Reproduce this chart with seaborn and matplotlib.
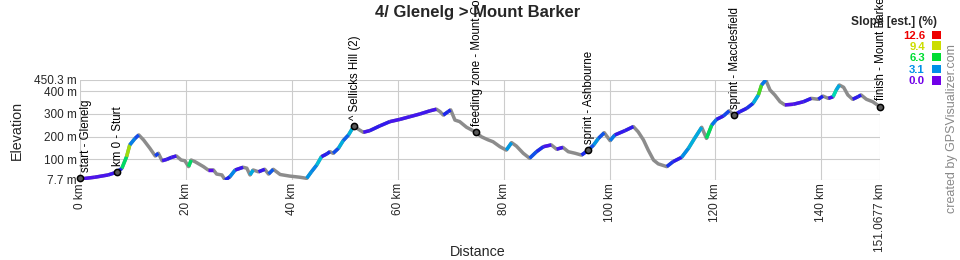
import numpy as np
import pandas as pd
import matplotlib
matplotlib.use("Agg")
import matplotlib.pyplot as plt
import seaborn as sns
from matplotlib.collections import LineCollection
from matplotlib.colors import LinearSegmentedColormap
from matplotlib.patches import Rectangle

# ---------------- data ----------------
distance_km = [0.0, 2.8, 5.3, 6.9, 7.9, 8.8, 9.4, 10.4, 11.1, 12.0, 13.2, 14.2, 14.8, 15.5, 16.4,
               17.3, 18.2, 19.1, 19.8, 20.5, 21.0, 21.7, 23.3, 24.2, 25.2, 25.8, 26.8, 27.4, 28.3,
               29.3, 30.8, 31.5, 32.1, 32.7, 33.7, 34.9, 35.6, 36.5, 37.8, 39.6, 41.5, 42.8, 43.7,
               44.7, 45.6, 46.6, 47.2, 47.8, 48.8, 49.7, 50.7, 51.7, 52.8, 53.5, 54.7, 56.6, 58.5,
               60.4, 62.3, 64.2, 66.1, 67.3, 68.0, 68.6, 69.5, 70.0, 70.8, 71.7, 73.0, 74.7, 75.8,
               77.0, 78.0, 79.3, 80.5, 81.5, 82.4, 83.7, 84.9, 86.2, 87.5, 89.0, 90.0, 91.2, 92.2,
               93.5, 94.7, 96.0, 97.0, 97.9, 99.0, 100.1, 101.0, 102.9, 104.5, 105.4, 106.4, 107.3,
               108.3, 109.2, 110.8, 112.0, 113.6, 114.9, 116.0, 117.4, 118.3, 119.3, 120.2, 121.5,
               122.6, 123.5, 124.6, 125.9, 127.1, 128.1, 128.7, 129.5, 130.3, 131.2, 132.2, 133.1,
               134.7, 136.6, 138.1, 139.4, 140.3, 141.3, 142.2, 142.8, 143.4, 144.2, 145.0, 145.9,
               146.9, 147.5, 148.5, 149.7, 151.0677]
elevation_m = [12, 20, 30, 42, 59, 111, 163, 192, 207, 185, 148, 114, 126, 93, 99,
               108, 114, 96, 93, 67, 96, 89, 67, 52, 52, 34, 30, 7.7, 22,
               52, 64, 60, 30, 52, 44, 55, 34, 55, 32, 25, 20, 15, 44,
               74, 111, 123, 133, 126, 148, 182, 207, 246, 229, 219, 226, 247, 266,
               276, 288, 300, 314, 321, 310, 295, 310, 318, 273, 266, 241, 220, 199,
               186, 177, 155, 140, 173, 158, 126, 104, 133, 155, 163, 144, 152, 133,
               126, 118, 140, 163, 192, 217, 182, 207, 226, 244, 221, 185, 140,
               96, 79, 67, 89, 108, 148, 190, 241, 192, 251, 276, 291,
               314, 295, 310, 325, 347, 384, 428, 450.3, 406, 384, 354, 340,
               343, 354, 369, 365, 379, 369, 376, 406, 428, 418, 384, 365,
               376, 384, 365, 354, 332]

waypoint_km = [0.0, 6.9, 51.7, 74.7, 96.0, 123.5, 151.0677]
waypoint_elev = [15, 42, 247, 219, 140, 295, 332]
waypoint_names = ["start - Glenelg", "km 0 - Sturt", "^ Sellicks Hill (2)",
                  "feeding zone - Mount Compass", "sprint - Ashbourne",
                  "sprint - Macclesfield", "finish - Mount Barker"]

x_ticks = [0, 20, 40, 60, 80, 100, 120, 140, 151.0677]
x_tick_labels = ["0 km", "20 km", "40 km", "60 km", "80 km", "100 km", "120 km", "140 km", "151.0677 km"]
y_ticks = [7.7, 100, 200, 300, 400, 450.3]
y_tick_labels = ["7.7 m", "100 m", "200 m", "300 m", "400 m", "450.3 m"]

legend_values = ["12.6", "9.4", "6.3", "3.1", "0.0"]
legend_colors = ["#EE0000", "#CCDD00", "#00DD33", "#0090E8", "#7000E8"]

title = "4/ Glenelg > Mount Barker"
legend_title = "Slope [est.] (%)"
credit = "created by GPSVisualizer.com"

# ---------------- style ----------------
sns.set_style("white")
plt.rcParams["font.family"] = ["Liberation Sans", "DejaVu Sans"]

W, H = 960, 260
fig = plt.figure(figsize=(W / 100, H / 100), dpi=100)
ax = fig.add_axes([80 / W, (H - 180) / H, 800 / W, 100 / H])

df = pd.DataFrame({"km": distance_km, "elev": elevation_m})

# grey base profile (descents remain grey)
sns.lineplot(data=df, x="km", y="elev", color="#8C8C8C", lw=2.5, ax=ax,
             solid_capstyle="round", zorder=3)

# coloured ascents by slope
x = np.asarray(distance_km, float)
y = np.asarray(elevation_m, float)
slope = np.diff(y) / (np.diff(x) * 1000) * 100
cmap = LinearSegmentedColormap.from_list(
    "slope",
    [(0.0, "#5A10EC"), (1.5 / 12.6, "#1E1EF0"), (3.1 / 12.6, "#0090E8"),
     (4.7 / 12.6, "#00D8D0"), (6.3 / 12.6, "#00DD33"), (9.4 / 12.6, "#CCDD00"),
     (11.0 / 12.6, "#F08000"), (1.0, "#EE0000")])
segs, cols = [], []
for i, s in enumerate(slope):
    if s >= 0:
        segs.append([(x[i], y[i]), (x[i + 1], y[i + 1])])
        cols.append(cmap(min(s, 12.6) / 12.6))
lc = LineCollection(segs, colors=cols, linewidths=2.5, zorder=4, capstyle="butt")
ax.add_collection(lc)

# waypoints
wp = pd.DataFrame({"km": waypoint_km, "elev": waypoint_elev})
sns.scatterplot(data=wp, x="km", y="elev", ax=ax, s=20, color="#5A5A5A",
                edgecolor="black", linewidth=1.1, zorder=6, clip_on=False)
for i, (k, e, n) in enumerate(zip(waypoint_km, waypoint_elev, waypoint_names)):
    dx = 4.5 if i == 0 else 0.8
    ax.annotate(n, (k, e), xytext=(dx, 4.5), textcoords="offset points",
                rotation=90, ha="center", va="bottom", fontsize=8.3,
                color="black", zorder=7, annotation_clip=False)

ax.set_xlim(0, 151.0677)
ax.set_ylim(7.7, 450.3)
ax.set_xticks(x_ticks)
ax.set_xticklabels(x_tick_labels, rotation=90, fontsize=8.5, va="top")
ax.set_yticks(y_ticks)
ax.set_yticklabels(y_tick_labels, fontsize=8.5)
ax.tick_params(length=0, pad=2.2)
ax.grid(True, color="#CCCCCC", lw=0.8)
ax.set_axisbelow(True)
for sp in ax.spines.values():
    sp.set_visible(False)

ax.set_xlabel("Distance", fontsize=10.3)
ax.xaxis.set_label_coords(0.4975, -0.72)
ax.xaxis.label.set_va("center")
ax.set_ylabel("Elevation", fontsize=10.3)
ax.yaxis.set_label_coords(-0.079, 0.5)
ax.yaxis.label.set_va("center")

# title
fig.text(478 / W, 1 - 17.3 / H, title, ha="center", va="baseline",
         fontsize=12, fontweight="bold")

# slope legend
fig.text(894 / W, 1 - 25 / H, legend_title, ha="center", va="baseline",
         fontsize=8.6, fontweight="bold")
row_y = [34.7, 45.6, 57.1, 68.8, 80.5]
for ry, v, c in zip(row_y, legend_values, legend_colors):
    fig.text(925 / W, 1 - ry / H, v, ha="right", va="center_baseline",
             fontsize=8.2, fontweight="bold", color=c)
    fig.patches.append(Rectangle(((931.5) / W, 1 - (ry + 4.2) / H), 9 / W, 8.4 / H,
                                 transform=fig.transFigure, facecolor=c,
                                 edgecolor="none", figure=fig))

fig.text(952 / W, 1 - 129 / H, credit, rotation=90, ha="center", va="center",
         fontsize=9.0, color="#888888")

fig.savefig("out.png", dpi=100)
